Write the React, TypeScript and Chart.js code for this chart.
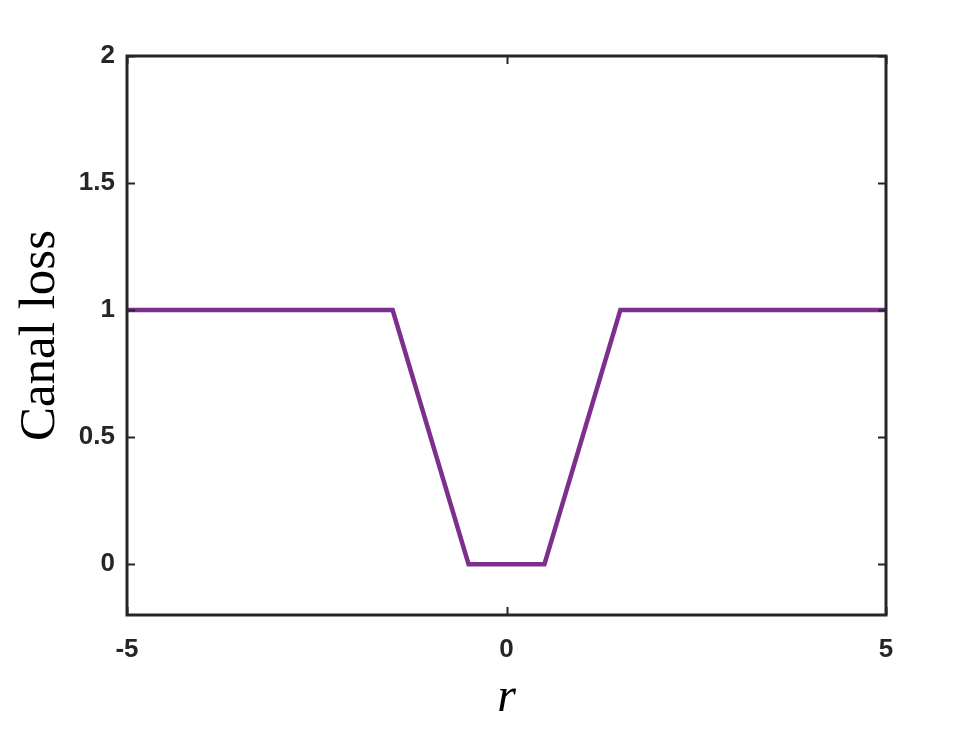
import React, { useEffect, useRef } from "react";
import { Chart, registerables } from "chart.js";

Chart.register(...registerables);

const rValues = [-5, -1.5, -0.5, 0.5, 1.5, 5];
const lossValues = [1, 1, 0, 0, 1, 1];
const xTicks = [-5, 0, 5];
const yTicks = [0, 0.5, 1, 1.5, 2];
const xLabel = "r";
const yLabel = "Canal loss";

const INK = "#262626";

const framePlugin = {
  id: "matlabFrame",
  afterDatasetsDraw(chart: any) {
    const { ctx, chartArea: a, scales } = chart;
    ctx.save();
    ctx.strokeStyle = INK;
    ctx.lineWidth = 2;
    const tl = 8;
    ctx.beginPath();
    for (const v of xTicks) {
      const px = Math.round(scales.x.getPixelForValue(v)) + 0.5;
      ctx.moveTo(px, a.bottom);
      ctx.lineTo(px, a.bottom - tl);
      ctx.moveTo(px, a.top);
      ctx.lineTo(px, a.top + tl);
    }
    for (const v of yTicks) {
      const py = Math.round(scales.y.getPixelForValue(v)) + 0.5;
      ctx.moveTo(a.left, py);
      ctx.lineTo(a.left + tl, py);
      ctx.moveTo(a.right, py);
      ctx.lineTo(a.right - tl, py);
    }
    ctx.stroke();
    ctx.lineWidth = 3;
    ctx.strokeRect(a.left, a.top, a.right - a.left, a.bottom - a.top);
    ctx.restore();
  },
};

export default function App() {
  const ref = useRef<HTMLCanvasElement | null>(null);
  useEffect(() => {
    if (!ref.current) return;
    const chart = new Chart(ref.current, {
      type: "line",
      data: {
        datasets: [
          {
            data: rValues.map((r, i) => ({ x: r, y: lossValues[i] })),
            borderColor: "#7E2F8E",
            borderWidth: 4.5,
            pointRadius: 0,
            tension: 0,
            fill: false,
          },
        ],
      },
      options: {
        responsive: false,
        animation: false,
        layout: { padding: { top: 56, right: 94, left: 0, bottom: 0 } },
        plugins: { legend: { display: false }, tooltip: { enabled: false } },
        scales: {
          x: {
            type: "linear",
            min: -5,
            max: 5,
            afterBuildTicks: (s: any) => {
              s.ticks = xTicks.map((v) => ({ value: v }));
            },
            afterFit: (s: any) => {
              s.height = 120;
            },
            grid: { display: false, drawTicks: false },
            border: { display: false },
            ticks: {
              autoSkip: false,
              maxRotation: 0,
              padding: 19,
              color: INK,
              font: { family: "'Liberation Sans', Arial, sans-serif", size: 26, weight: "bold" },
              callback: (v: any) => String(v),
            },
            title: {
              display: true,
              text: xLabel,
              color: "#000",
              font: { family: "'Liberation Serif', 'Times New Roman', serif", size: 48, style: "italic" },
              padding: { top: 0, bottom: 8 },
            },
          },
          y: {
            type: "linear",
            min: -0.2,
            max: 2,
            afterBuildTicks: (s: any) => {
              s.ticks = yTicks.map((v) => ({ value: v }));
            },
            afterFit: (s: any) => {
              s.width = 127;
            },
            grid: { display: false, drawTicks: false },
            border: { display: false },
            ticks: {
              autoSkip: false,
              padding: 12,
              color: INK,
              font: { family: "'Liberation Sans', Arial, sans-serif", size: 26, weight: "bold" },
              callback: (v: any) => String(v),
            },
            title: {
              display: true,
              text: yLabel,
              color: "#000",
              font: { family: "'Liberation Serif', 'Times New Roman', serif", size: 51 },
              padding: { top: 10, bottom: 0 },
            },
          },
        },
      },
      plugins: [framePlugin],
    });
    return () => chart.destroy();
  }, []);
  return (
    <div style={{ position: "fixed", left: 0, top: 0, width: 980, height: 735, background: "#fff" }}>
      <canvas ref={ref} width={980} height={735} style={{ display: "block" }} />
    </div>
  );
}
